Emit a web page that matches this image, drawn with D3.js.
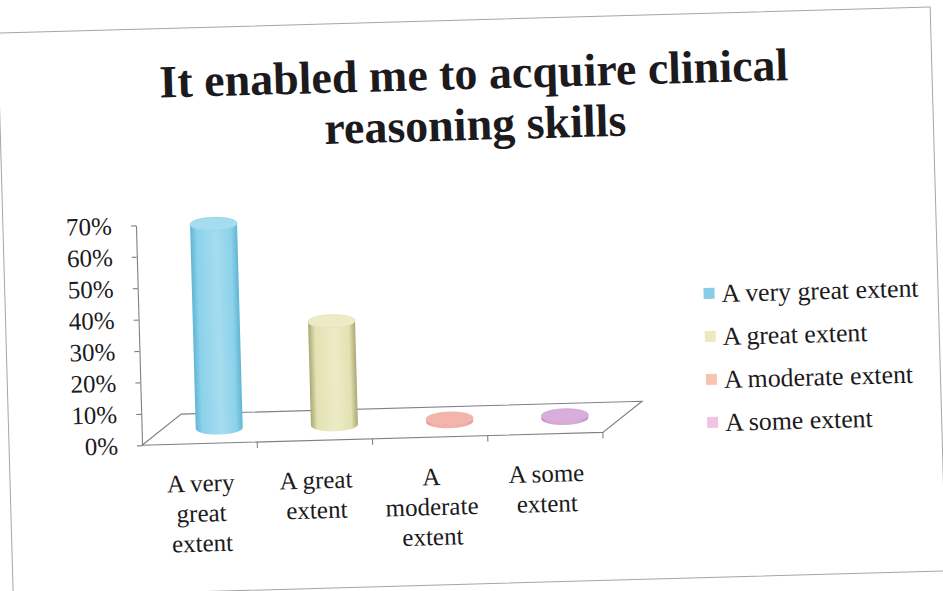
<!DOCTYPE html>
<html>
<head>
<meta charset="utf-8">
<script src="https://cdn.jsdelivr.net/npm/d3@7"></script>
<style>
  html, body { margin: 0; padding: 0; background: #ffffff; }
  svg { display: block; }
  text { font-family: "Liberation Serif", "Times New Roman", serif; fill: #1c1a1d; }
</style>
</head>
<body>
<script>
// Survey item: "It enabled me to acquire clinical reasoning skills"
const titleLines = ["It enabled me to acquire clinical", "reasoning skills"];
const categories = ["A very great extent", "A great extent", "A moderate extent", "A some extent"];
const values = [0.65, 0.33, 0.01, 0.01];
const yTicks = [0, 0.1, 0.2, 0.3, 0.4, 0.5, 0.6, 0.7];
const bodyColors = ["#8cd2ea", "#e4e2b2", "#f0ada4", "#d3a5d3"];
const edgeColors = ["#5fb6d4", "#a9a774", "#e0978e", "#bd8dbf"];
const capColors = ["#a5dcef", "#ecebc6", "#f2b4ab", "#d9aedb"];
const legendColors = ["#86cde6", "#ebeabf", "#f7c3b3", "#f3c3df"];

const W = 943, H = 591;
const depth = { dx: 40, dy: -30 };   // oblique offset of the floor's back edge
const axisColor = "#857d8a";

const svg = d3.select("body").append("svg")
  .attr("width", W).attr("height", H);

const defs = svg.append("defs");
bodyColors.forEach((c, i) => {
  const g = defs.append("linearGradient").attr("id", "cyl" + i)
    .attr("x1", "0%").attr("x2", "100%").attr("y1", "0%").attr("y2", "0%");
  g.append("stop").attr("offset", "0%").attr("stop-color", edgeColors[i]);
  g.append("stop").attr("offset", "14%").attr("stop-color", bodyColors[i]);
  g.append("stop").attr("offset", "55%").attr("stop-color", capColors[i]);
  g.append("stop").attr("offset", "86%").attr("stop-color", bodyColors[i]);
  g.append("stop").attr("offset", "100%").attr("stop-color", edgeColors[i]);
});

// whole sheet sits slightly askew
const root = svg.append("g").attr("transform", "rotate(-1.6, 471, 295)");

// outer frame
root.append("rect")
  .attr("x", 5).attr("y", 20).attr("width", 933).attr("height", 564)
  .attr("fill", "none").attr("stroke", "#a9a3ad").attr("stroke-width", 1);

// title
root.append("text")
  .attr("x", 480).attr("y", 89)
  .attr("text-anchor", "middle")
  .style("font-size", "46px").style("font-weight", "bold")
  .selectAll("tspan").data(titleLines).join("tspan")
  .attr("x", 480).attr("dy", (d, i) => i === 0 ? 0 : 51)
  .text(d => d);

// scales
const x = d3.scaleBand().domain(categories).range([138, 599]).padding(0);
const y = d3.scaleLinear().domain([0, 0.7]).range([436, 216]);
const bw = x.bandwidth();

// floor (front edge, sides, back edge)
const x0 = x.range()[0], x1 = x.range()[1], y0 = y(0);
root.append("path")
  .attr("d", `M${x0},${y0} L${x1},${y0} L${x1 + depth.dx},${y0 + depth.dy} L${x0 + depth.dx},${y0 + depth.dy} Z`)
  .attr("fill", "#ffffff").attr("stroke", axisColor).attr("stroke-width", 1.1);

// category tick marks on the front edge
const bounds = categories.map(c => x(c)).concat([x1]).slice(1);
root.selectAll("line.xtick").data(bounds).join("line")
  .attr("class", "xtick")
  .attr("x1", d => d).attr("x2", d => d)
  .attr("y1", y0).attr("y2", y0 + 6)
  .attr("stroke", axisColor).attr("stroke-width", 1.1);

// value axis
const yAxis = d3.axisLeft(y).tickValues(yTicks)
  .tickFormat(d3.format(".0%")).tickSize(5).tickSizeOuter(0).tickPadding(19);
const ag = root.append("g").attr("transform", `translate(${x0},0)`).call(yAxis);
ag.select(".domain").attr("stroke", axisColor).attr("stroke-width", 1.1);
ag.selectAll(".tick line").attr("stroke", axisColor).attr("stroke-width", 1.1);
ag.selectAll(".tick text")
  .style("font-family", '"Liberation Serif", "Times New Roman", serif')
  .style("font-size", "25px").attr("fill", "#1c1a1d");

// cylinders
const rx = 23.5, ry = 6.5;
const cyl = root.selectAll("g.cyl").data(categories).join("g").attr("class", "cyl");
cyl.each(function (c, i) {
  const g = d3.select(this);
  const cx = x(c) + bw / 2 + depth.dx / 2;
  const base = y(0) + depth.dy / 2;
  const top = y(values[i]) + depth.dy / 2;
  g.append("path")
    .attr("d", `M${cx - rx},${top} L${cx - rx},${base} A${rx},${ry} 0 0 0 ${cx + rx},${base} L${cx + rx},${top} A${rx},${ry} 0 0 1 ${cx - rx},${top} Z`)
    .attr("fill", `url(#cyl${i})`);
  g.append("ellipse")
    .attr("cx", cx).attr("cy", top).attr("rx", rx).attr("ry", ry)
    .attr("fill", capColors[i]).attr("stroke", bodyColors[i]).attr("stroke-width", 0.8);
});

// category labels, wrapped under each band
const labels = root.selectAll("text.cat").data(categories).join("text")
  .attr("class", "cat")
  .attr("text-anchor", "middle")
  .style("font-size", "25px");
labels.each(function (c) {
  const t = d3.select(this);
  const cx = x(c) + bw / 2;
  const words = c.split(" ");
  const lines = [];
  let line = [];
  const probe = t.append("tspan");
  words.forEach(w => {
    const test = line.concat([w]).join(" ");
    probe.text(test);
    if (probe.node().getComputedTextLength() > 100 && line.length) {
      lines.push(line.join(" "));
      line = [w];
    } else {
      line.push(w);
    }
  });
  lines.push(line.join(" "));
  probe.remove();
  lines.forEach((l, k) => {
    t.append("tspan").attr("x", cx).attr("y", 484 + k * 30).text(l);
  });
});

// legend
const lg = root.append("g").attr("transform", "translate(703.5,309)");
const li = lg.selectAll("g").data(categories).join("g")
  .attr("transform", (d, i) => `translate(0,${i * 43})`);
li.append("rect").attr("x", 0).attr("y", -14.5).attr("width", 11).attr("height", 11)
  .attr("fill", (d, i) => legendColors[i]);
li.append("text").attr("x", 18).attr("y", 0)
  .style("font-size", "25.8px").text(d => d);
</script>
</body>
</html>
